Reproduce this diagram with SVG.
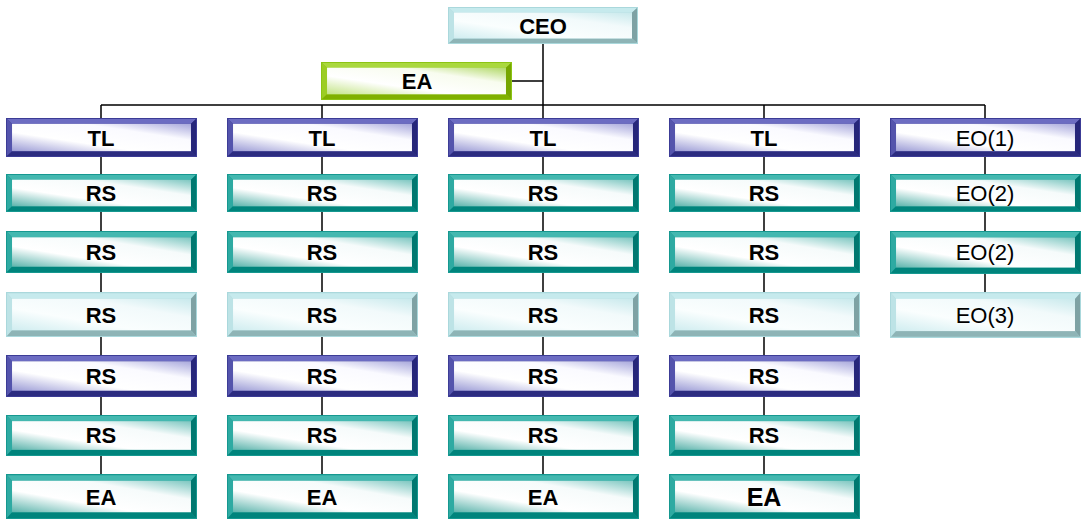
<svg xmlns="http://www.w3.org/2000/svg" xmlns:xlink="http://www.w3.org/1999/xlink" width="1083" height="527" viewBox="0 0 1083 527">
<style>
.t{font-family:"Liberation Sans",Arial,sans-serif;font-size:22px;font-weight:bold;fill:#000;text-anchor:middle}
.r{font-family:"Liberation Sans",Arial,sans-serif;font-size:22px;fill:#000;text-anchor:middle}
.ln{stroke:#000;stroke-width:1.5;fill:none}
</style>
<defs>
<linearGradient id="gP" x1="0" y1="1" x2="1" y2="0"><stop offset="0" stop-color="#9c9cd6"/><stop offset="0.35" stop-color="#fff"/><stop offset="0.7" stop-color="#fafaff"/><stop offset="1" stop-color="#a8a8dc"/></linearGradient>
<linearGradient id="gT" x1="0" y1="1" x2="1" y2="0"><stop offset="0" stop-color="#5cb4ac"/><stop offset="0.35" stop-color="#fff"/><stop offset="0.7" stop-color="#f6fbfb"/><stop offset="1" stop-color="#7cc6c0"/></linearGradient>
<linearGradient id="gL" x1="0" y1="1" x2="1" y2="0"><stop offset="0" stop-color="#d0edf0"/><stop offset="0.35" stop-color="#fafefe"/><stop offset="0.7" stop-color="#f2fafb"/><stop offset="1" stop-color="#c8e9ec"/></linearGradient>
<linearGradient id="gG" x1="0" y1="1" x2="1" y2="0"><stop offset="0" stop-color="#c4e488"/><stop offset="0.35" stop-color="#fff"/><stop offset="0.7" stop-color="#f8fcef"/><stop offset="1" stop-color="#b0d866"/></linearGradient>
<symbol id="P" viewBox="0 0 190 40" preserveAspectRatio="none">
<rect width="190" height="40" fill="#3c3c96"/>
<polygon points="1,1 189,1 184,6 6,6" fill="#6c6cc2"/>
<polygon points="1,1 6,6 6,34 1,39" fill="#5454ac"/>
<polygon points="189,1 189,39 184,34 184,6" fill="#26267a"/>
<polygon points="1,39 189,39 184,34 6,34" fill="#2c2c80"/>
<rect x="6" y="6" width="178" height="28" fill="url(#gP)"/>
</symbol>
<symbol id="T" viewBox="0 0 190 40" preserveAspectRatio="none">
<rect width="190" height="40" fill="#169890"/>
<polygon points="1,1 189,1 184,6 6,6" fill="#44b8b0"/>
<polygon points="1,1 6,6 6,34 1,39" fill="#2eaaa2"/>
<polygon points="189,1 189,39 184,34 184,6" fill="#007870"/>
<polygon points="1,39 189,39 184,34 6,34" fill="#00847c"/>
<rect x="6" y="6" width="178" height="28" fill="url(#gT)"/>
</symbol>
<symbol id="L" viewBox="0 0 190 40" preserveAspectRatio="none">
<rect width="190" height="40" fill="#aad8dc"/>
<polygon points="1,1 189,1 184,6 6,6" fill="#c6eaed"/>
<polygon points="1,1 6,6 6,34 1,39" fill="#bde3e6"/>
<polygon points="189,1 189,39 184,34 184,6" fill="#7ea2a4"/>
<polygon points="1,39 189,39 184,34 6,34" fill="#8eb4b6"/>
<rect x="6" y="6" width="178" height="28" fill="url(#gL)"/>
</symbol>
<symbol id="G" viewBox="0 0 190 40" preserveAspectRatio="none">
<rect width="190" height="40" fill="#8cc414"/>
<polygon points="1,1 189,1 184,6 6,6" fill="#aad83e"/>
<polygon points="1,1 6,6 6,34 1,39" fill="#9ccd24"/>
<polygon points="189,1 189,39 184,34 184,6" fill="#76a600"/>
<polygon points="1,39 189,39 184,34 6,34" fill="#80b000"/>
<rect x="6" y="6" width="178" height="28" fill="url(#gG)"/>
</symbol>
</defs>
<rect width="1083" height="527" fill="#fff"/>
<g id="connectors" class="ln">
<path d="M543 44V105M512 81H543M101 105H985"/>
<path d="M101 105V474M322 105V474M543 105V474M764 105V474M985 105V292"/>
</g>
<g id="ceo"><use xlink:href="#L" x="448" y="7" width="190" height="37"/><text class="t" x="543" y="34">CEO</text></g>
<g id="ea-top"><use xlink:href="#G" x="321" y="62" width="191" height="38"/><text class="t" x="417" y="89">EA</text></g>

<g id="c1-tl"><use xlink:href="#P" x="6" y="118" width="191" height="39"/><text class="t" x="101" y="146">TL</text></g>
<g id="c1-rs1"><use xlink:href="#T" x="6" y="174" width="191" height="38"/><text class="t" x="101" y="201">RS</text></g>
<g id="c1-rs2"><use xlink:href="#T" x="6" y="231" width="191" height="42"/><text class="t" x="101" y="260">RS</text></g>
<g id="c1-rs3"><use xlink:href="#L" x="6" y="292" width="191" height="45"/><text class="t" x="101" y="323">RS</text></g>
<g id="c1-rs4"><use xlink:href="#P" x="6" y="355" width="191" height="42"/><text class="t" x="101" y="384">RS</text></g>
<g id="c1-rs5"><use xlink:href="#T" x="6" y="415" width="191" height="41"/><text class="t" x="101" y="443">RS</text></g>
<g id="c1-ea"><use xlink:href="#T" x="6" y="474" width="191" height="45"/><text class="t" x="101" y="505">EA</text></g>

<g id="c2-tl"><use xlink:href="#P" x="227" y="118" width="191" height="39"/><text class="t" x="322" y="146">TL</text></g>
<g id="c2-rs1"><use xlink:href="#T" x="227" y="174" width="191" height="38"/><text class="t" x="322" y="201">RS</text></g>
<g id="c2-rs2"><use xlink:href="#T" x="227" y="231" width="191" height="42"/><text class="t" x="322" y="260">RS</text></g>
<g id="c2-rs3"><use xlink:href="#L" x="227" y="292" width="191" height="45"/><text class="t" x="322" y="323">RS</text></g>
<g id="c2-rs4"><use xlink:href="#P" x="227" y="355" width="191" height="42"/><text class="t" x="322" y="384">RS</text></g>
<g id="c2-rs5"><use xlink:href="#T" x="227" y="415" width="191" height="41"/><text class="t" x="322" y="443">RS</text></g>
<g id="c2-ea"><use xlink:href="#T" x="227" y="474" width="191" height="45"/><text class="t" x="322" y="505">EA</text></g>

<g id="c3-tl"><use xlink:href="#P" x="448" y="118" width="191" height="39"/><text class="t" x="543" y="146">TL</text></g>
<g id="c3-rs1"><use xlink:href="#T" x="448" y="174" width="191" height="38"/><text class="t" x="543" y="201">RS</text></g>
<g id="c3-rs2"><use xlink:href="#T" x="448" y="231" width="191" height="42"/><text class="t" x="543" y="260">RS</text></g>
<g id="c3-rs3"><use xlink:href="#L" x="448" y="292" width="191" height="45"/><text class="t" x="543" y="323">RS</text></g>
<g id="c3-rs4"><use xlink:href="#P" x="448" y="355" width="191" height="42"/><text class="t" x="543" y="384">RS</text></g>
<g id="c3-rs5"><use xlink:href="#T" x="448" y="415" width="191" height="41"/><text class="t" x="543" y="443">RS</text></g>
<g id="c3-ea"><use xlink:href="#T" x="448" y="474" width="191" height="45"/><text class="t" x="543" y="505">EA</text></g>

<g id="c4-tl"><use xlink:href="#P" x="669" y="118" width="191" height="39"/><text class="t" x="764" y="146">TL</text></g>
<g id="c4-rs1"><use xlink:href="#T" x="669" y="174" width="191" height="38"/><text class="t" x="764" y="201">RS</text></g>
<g id="c4-rs2"><use xlink:href="#T" x="669" y="231" width="191" height="42"/><text class="t" x="764" y="260">RS</text></g>
<g id="c4-rs3"><use xlink:href="#L" x="669" y="292" width="191" height="45"/><text class="t" x="764" y="323">RS</text></g>
<g id="c4-rs4"><use xlink:href="#P" x="669" y="355" width="191" height="42"/><text class="t" x="764" y="384">RS</text></g>
<g id="c4-rs5"><use xlink:href="#T" x="669" y="415" width="191" height="41"/><text class="t" x="764" y="443">RS</text></g>
<g id="c4-ea"><use xlink:href="#T" x="669" y="474" width="191" height="45"/><text class="t" x="764" y="506" style="font-size:25px">EA</text></g>

<g id="eo1"><use xlink:href="#P" x="890" y="118" width="191" height="39"/><text class="r" x="985" y="146">EO(1)</text></g>
<g id="eo2a"><use xlink:href="#T" x="890" y="174" width="191" height="38"/><text class="r" x="985" y="201">EO(2)</text></g>
<g id="eo2b"><use xlink:href="#T" x="890" y="231" width="191" height="43"/><text class="r" x="985" y="260">EO(2)</text></g>
<g id="eo3"><use xlink:href="#L" x="890" y="292" width="191" height="46"/><text class="r" x="985" y="323">EO(3)</text></g>
</svg>
